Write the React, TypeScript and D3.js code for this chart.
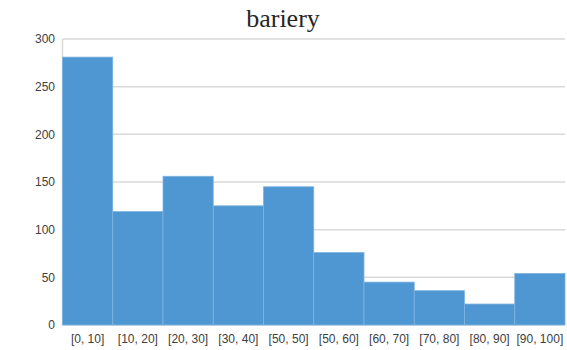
import React from "react";
import * as d3 from "d3";

const categories = ["[0, 10]", "[10, 20]", "[20, 30]", "[30, 40]", "[50, 50]", "[50, 60]", "[60, 70]", "[70, 80]", "[80, 90]", "[90, 100]"];
const counts = [281, 119, 156, 125, 145, 76, 45, 36, 22, 54];
const yTicks = [0, 50, 100, 150, 200, 250, 300];
const title = "bariery";

export default function App() {
  const W = 567, H = 350;
  const left = 62.5, right = 565, top = 39, bottom = 325;
  const x = d3.scaleBand<string>().domain(categories).range([left, right]).padding(0);
  const y = d3.scaleLinear().domain([0, 300]).range([bottom, top]);
  return (
    <svg width={W} height={H} style={{ position: "absolute", left: 0, top: 0 }}>
      <text x={283} y={27} textAnchor="middle" fontFamily="'Liberation Serif', serif" fontSize={26} fill="#262626">{title}</text>
      {yTicks.map((t) => (
        <g key={t}>
          {t > 0 && <line x1={left} x2={right} y1={y(t)} y2={y(t)} stroke="#d9d9d9" strokeWidth={1.5} />}
          <text x={55} y={y(t)} dy="0.35em" textAnchor="end" fontFamily="'Liberation Sans', Arial, sans-serif" fontSize={12} fill="#404040" style={{ fontStretch: "condensed" }}>{t}</text>
        </g>
      ))}
      <line x1={left} x2={left} y1={top} y2={bottom} stroke="#d9d9d9" strokeWidth={1.5} />
      <line x1={left} x2={right} y1={bottom} y2={bottom} stroke="#d9d9d9" strokeWidth={1.5} />
      {categories.map((c, i) => (
        <rect key={c} x={x(c)!} y={y(counts[i])} width={x.bandwidth()} height={bottom - y(counts[i])} fill="#4e97d2" stroke="#7fb3df" strokeWidth={0.8} />
      ))}
      {categories.map((c) => (
        <text key={c} x={x(c)! + x.bandwidth() / 2} y={343} textAnchor="middle" fontFamily="'Liberation Sans', Arial, sans-serif" fontSize={12} fill="#404040">{c}</text>
      ))}
    </svg>
  );
}
